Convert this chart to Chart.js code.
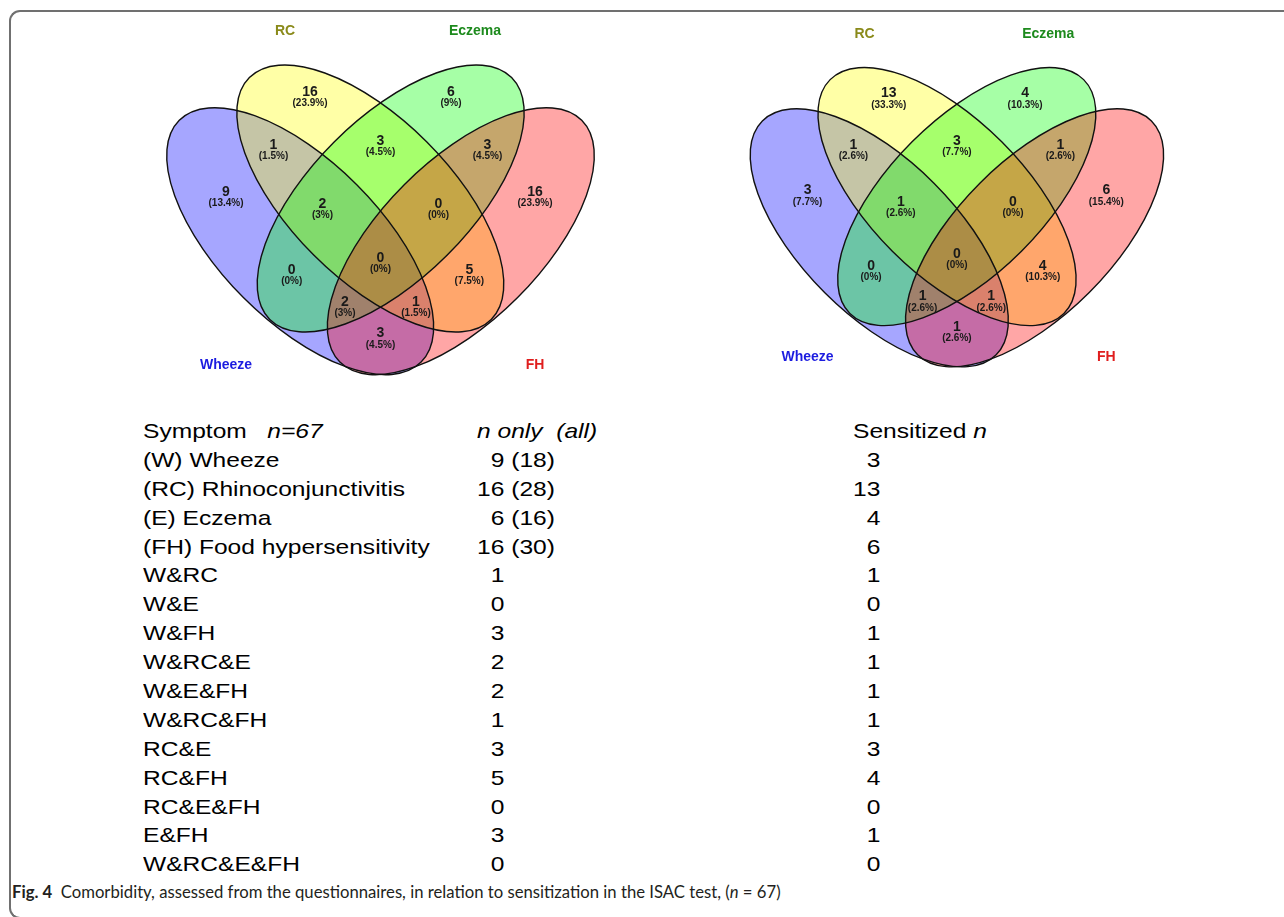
<!DOCTYPE html>
<html>
<head>
<meta charset="utf-8">
<script src="https://cdn.jsdelivr.net/npm/chart.js@4.4.1/dist/chart.umd.min.js"></script>
<style>
  html, body { margin: 0; padding: 0; background: #fff; }
  body { width: 1284px; height: 917px; position: relative; overflow: hidden; font-family: "Liberation Sans", Arial, sans-serif; }
  #frame { position: absolute; left: 9px; top: 10px; width: 1300px; height: 909px; border: 2px solid #707070; border-right: none; border-radius: 11px 0 0 11px; box-sizing: border-box; }
  canvas.venn { position: absolute; }
  .col { position: absolute; top: 417px; font-size: 21px; line-height: 28.9px; color: #000; transform: scaleX(1.17); transform-origin: 0 0; white-space: pre; }
  .col div { height: 28.9px; }
  .num { display: inline-block; width: 23.4px; text-align: right; }
  #caption { position: absolute; left: 12px; top: 883px; font-family: Lato, "Open Sans", sans-serif; font-size: 16.7px; line-height: 19px; color: #231f20; white-space: pre; }
</style>
</head>
<body>
<div id="frame"></div>
<canvas id="vennAll" class="venn" width="500" height="390" style="left:130px;top:10px;width:500px;height:390px"></canvas>
<canvas id="vennSens" class="venn" width="520" height="390" style="left:700px;top:10px;width:520px;height:390px"></canvas>
<div id="col1" class="col" style="left:142.7px"></div>
<div id="col2" class="col" style="left:476.7px"></div>
<div id="col3" class="col" style="left:853px"></div>
<div id="caption"><b>Fig. 4</b>  Comorbidity, assessed from the questionnaires, in relation to sensitization in the ISAC test, (<i>n</i> = 67)</div>
<script>
// ---------------- DATA ----------------
const setNames = ['Wheeze', 'RC', 'Eczema', 'FH'];
const rowKeys = ['W', 'RC', 'E', 'FH', 'W&RC', 'W&E', 'W&FH', 'W&RC&E', 'W&E&FH', 'W&RC&FH', 'RC&E', 'RC&FH', 'RC&E&FH', 'E&FH', 'W&RC&E&FH'];
const rowLabels = ['(W) Wheeze', '(RC) Rhinoconjunctivitis', '(E) Eczema', '(FH) Food hypersensitivity', 'W&RC', 'W&E', 'W&FH', 'W&RC&E', 'W&E&FH', 'W&RC&FH', 'RC&E', 'RC&FH', 'RC&E&FH', 'E&FH', 'W&RC&E&FH'];
const nOnly = [9, 16, 6, 16, 1, 0, 3, 2, 2, 1, 3, 5, 0, 3, 0];
const nAll = [18, 28, 16, 30];
const sensitizedN = [3, 13, 4, 6, 1, 0, 1, 1, 1, 1, 3, 4, 0, 1, 0];

// ---------------- LAYOUT (geometry, not data) ----------------
// Diagram units: 1 unit = 1 px of the left diagram, origin at diagram centre, y up.
const ELLIPSES = [
  { cx: -80.3, cy: -36.2, a: 171, b: 80, rot: Math.PI / 4, fill: 'rgba(0,0,255,0.35)' },   // Wheeze
  { cx: -10.2, cy: 6.5, a: 171, b: 80, rot: Math.PI / 4, fill: 'rgba(255,255,0,0.35)' },   // RC
  { cx: 10.2, cy: 6.5, a: 171, b: 80, rot: -Math.PI / 4, fill: 'rgba(0,255,0,0.35)' },     // Eczema
  { cx: 80.3, cy: -36.2, a: 171, b: 80, rot: -Math.PI / 4, fill: 'rgba(255,0,0,0.35)' }    // FH
];
const REGION_POS = {
  'W': [-154.5, 13], 'RC': [-70.5, 113], 'E': [70.5, 113], 'FH': [154.5, 13],
  'W&RC': [-107, 60], 'RC&E': [0, 64], 'E&FH': [107, 60],
  'W&RC&E': [-58, 1], 'RC&E&FH': [58, 1],
  'W&E': [-88.8, -65], 'W&RC&E&FH': [0, -53], 'RC&FH': [88.8, -65],
  'W&E&FH': [-35.5, -96.7], 'W&RC&FH': [35.5, -96.7], 'W&FH': [0, -128.3]
};
const SET_POS = [[-154.5, -160], [-95.5, 174], [94.5, 174], [154.5, -160]];
const SET_COLORS = ['#1c1ce0', '#8a8a1a', '#1d8a1d', '#e01e1e'];

function pctText(v, total) {
  let s = (v / total * 100).toFixed(1);
  if (s.endsWith('.0')) s = s.slice(0, -2);
  return '(' + s + '%)';
}

const vennPlugin = {
  id: 'venn',
  beforeDatasetsDraw(chart) {
    const { ctx, scales: { x, y } } = chart;
    const k = Math.abs(x.getPixelForValue(1) - x.getPixelForValue(0));
    ctx.save();
    ELLIPSES.forEach(e => {
      ctx.beginPath();
      ctx.ellipse(x.getPixelForValue(e.cx), y.getPixelForValue(e.cy), e.a * k, e.b * k, e.rot, 0, Math.PI * 2);
      ctx.fillStyle = e.fill;
      ctx.fill();
    });
    ELLIPSES.forEach(e => {
      ctx.beginPath();
      ctx.ellipse(x.getPixelForValue(e.cx), y.getPixelForValue(e.cy), e.a * k, e.b * k, e.rot, 0, Math.PI * 2);
      ctx.strokeStyle = '#111';
      ctx.lineWidth = 1.4;
      ctx.stroke();
    });
    ctx.restore();
  },
  afterDatasetsDraw(chart) {
    const { ctx } = chart;
    ctx.save();
    ctx.textAlign = 'center';
    ctx.textBaseline = 'middle';
    const ds0 = chart.data.datasets[0];
    chart.getDatasetMeta(0).data.forEach((pt, i) => {
      const r = ds0.data[i];
      ctx.fillStyle = '#1a1a1a';
      ctx.font = 'bold 14px "Liberation Sans", Arial, sans-serif';
      ctx.fillText(String(r.count), pt.x, pt.y);
      ctx.font = 'bold 10px "Liberation Sans", Arial, sans-serif';
      ctx.fillText(pctText(r.count, r.total), pt.x, pt.y + 11.5);
    });
    const ds1 = chart.data.datasets[1];
    chart.getDatasetMeta(1).data.forEach((pt, i) => {
      ctx.fillStyle = SET_COLORS[i];
      ctx.font = 'bold 14px "Liberation Sans", Arial, sans-serif';
      ctx.fillText(ds1.data[i].name, pt.x, pt.y);
    });
    ctx.restore();
  }
};

function makeVenn(id, counts, range) {
  const total = counts.reduce((s, v) => s + v, 0);
  const regionData = rowKeys.map((key, i) => ({ x: REGION_POS[key][0], y: REGION_POS[key][1], count: counts[i], total }));
  const setData = setNames.map((n, i) => ({ x: SET_POS[i][0], y: SET_POS[i][1], name: n }));
  return new Chart(document.getElementById(id), {
    type: 'scatter',
    data: {
      datasets: [
        { data: regionData, pointRadius: 0, pointHoverRadius: 0, showLine: false },
        { data: setData, pointRadius: 0, pointHoverRadius: 0, showLine: false }
      ]
    },
    options: {
      responsive: false,
      animation: false,
      devicePixelRatio: 1,
      layout: { padding: 0 },
      events: [],
      plugins: { legend: { display: false }, tooltip: { enabled: false }, title: { display: false } },
      scales: {
        x: { type: 'linear', display: false, min: range.x[0], max: range.x[1] },
        y: { type: 'linear', display: false, min: range.y[0], max: range.y[1] }
      }
    },
    plugins: [vennPlugin]
  });
}

makeVenn('vennAll', nOnly, { x: [-250.5, 249.5], y: [-195, 195] });
makeVenn('vennSens', sensitizedN, { x: [-265.7, 272.1], y: [-203.9, 199.4] });

// ---------------- TABLE ----------------
const col1 = document.getElementById('col1');
const col2 = document.getElementById('col2');
const col3 = document.getElementById('col3');
col1.innerHTML = '<div>Symptom   <i>n=67</i></div>' + rowLabels.map(l => '<div>' + l.replace(/&/g, '&amp;') + '</div>').join('');
col2.innerHTML = '<div><i>n only  (all)</i></div>' + nOnly.map((v, i) =>
  '<div><span class="num">' + v + '</span>' + (i < nAll.length ? ' (' + nAll[i] + ')' : '') + '</div>').join('');
col3.innerHTML = '<div>Sensitized <i>n</i></div>' + sensitizedN.map(v => '<div><span class="num">' + v + '</span></div>').join('');
</script>
</body>
</html>
